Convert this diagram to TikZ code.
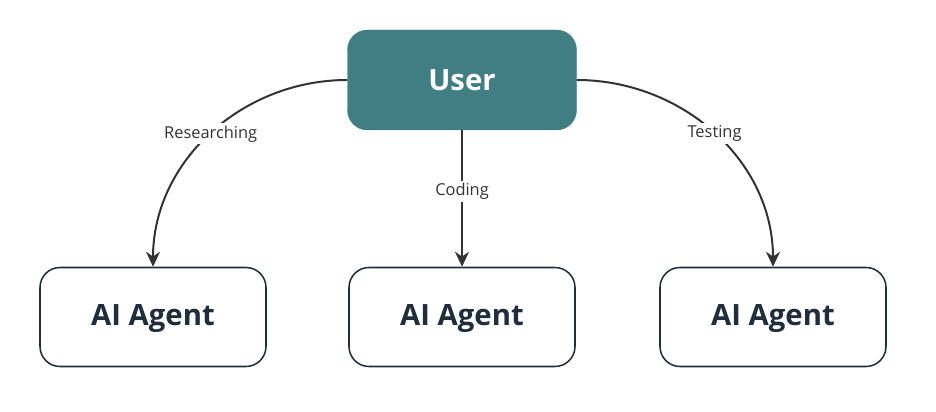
\documentclass[tikz,border=0pt]{standalone}
\usepackage{fontspec}
\setmainfont{Open Sans}
\usetikzlibrary{arrows.meta, positioning}
\definecolor{userteal}{HTML}{417E84}
\definecolor{navy}{HTML}{1F2D3D}
\definecolor{edgegray}{HTML}{333333}
\tikzset{
  userbox/.style = {rectangle, rounded corners=0.6cm, minimum width=6.87cm, minimum height=3cm,
                    fill=userteal, draw=userteal, text=white, font=\fontsize{25}{30}\selectfont\bfseries},
  agentbox/.style = {rectangle, rounded corners=0.6cm, minimum width=6.78cm, minimum height=2.97cm,
                     fill=white, draw=navy, line width=1.3pt, text=navy, text depth=0.1cm,
                     font=\fontsize{25}{30}\selectfont\bfseries},
  arrow/.style = {line width=1.7pt, draw=edgegray, -{Stealth[length=0.45cm, width=0.42cm]}},
  elabel/.style = {fill=white, text=edgegray, font=\fontsize{14}{17}\selectfont, inner sep=2pt}
}
\begin{document}
\begin{tikzpicture}
    \useasboundingbox (0,0) rectangle (28.08,12.36);
    % Nodes
    \node[userbox] (user) at (13.86,9.96) {User};
    \node[agentbox] (a1) at (4.59,2.85) {AI Agent};
    \node[agentbox] (a2) at (13.86,2.85) {AI Agent};
    \node[agentbox] (a3) at (23.19,2.85) {AI Agent};

    % Arrows
    \draw[arrow] (user.west) to[out=180, in=90] node[elabel, pos=0.5] {Researching} (a1.north);
    \draw[arrow] (user.south) -- node[elabel, pos=0.45] {Coding} (a2.north);
    \draw[arrow] (user.east) to[out=0, in=90] node[elabel, pos=0.5] {Testing} (a3.north);
\end{tikzpicture}
\end{document}
